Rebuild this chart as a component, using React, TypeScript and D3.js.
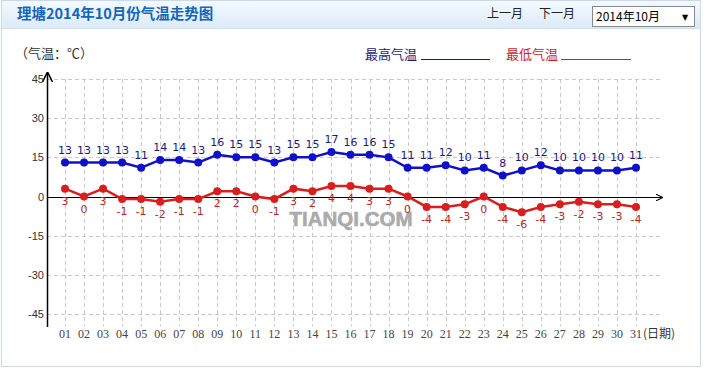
import React from "react";
import * as d3 from "d3";

const days = ["01","02","03","04","05","06","07","08","09","10","11","12","13","14","15","16","17","18","19","20","21","22","23","24","25","26","27","28","29","30","31"];
const highs = [13,13,13,13,11,14,14,13,16,15,15,13,15,15,17,16,16,15,11,11,12,10,11,8,10,12,10,10,10,10,11];
const lows = [3,0,3,-1,-1,-2,-1,-1,2,2,0,-1,3,2,4,4,3,3,0,-4,-4,-3,0,-4,-6,-4,-3,-2,-3,-3,-4];
const yTicks = [45,30,15,0,-15,-30,-45];
const title = "理塘2014年10月份气温走势图";
const unitLabel = "（气温：℃）";
const highName = "最高气温";
const lowName = "最低气温";
const xUnit = "(日期)";

const W = 705, H = 370;
const HIGH = "#1010c8";
const LOW = "#d81e1e";
const HIGH_TXT = "#1a1a7a";
const LOW_TXT = "#b02a2a";
const CJK = "'Noto Sans CJK SC', 'DejaVu Sans', sans-serif";

export default function App() {
  const x = d3.scalePoint<string>().domain(days).range([65, 636]);
  const y = d3.scaleLinear().domain([-45, 45]).range([314, 79]);
  const axisX = 47;
  const gridRight = 660;
  const lineGen = d3.line<number>().x((_, i) => x(days[i])!).y((v) => y(v));

  return (
    <svg width={W} height={H} style={{ position: "absolute", left: 0, top: 0, background: "#fff" }}>
      <defs>
        <linearGradient id="hdr" x1="0" y1="0" x2="0" y2="1">
          <stop offset="0" stopColor="#f4f9fe" />
          <stop offset="1" stopColor="#dcebf8" />
        </linearGradient>
        <marker id="arr" viewBox="0 0 10 10" refX="9" refY="5" markerWidth="7" markerHeight="7" orient="auto">
          <path d="M0,0 L10,5 L0,10" fill="none" stroke="#000" strokeWidth="1.5" />
        </marker>
      </defs>
      {/* frame */}
      <rect x={1.5} y={0.5} width={699} height={366} fill="#fff" stroke="#c8d9ea" />
      <rect x={2} y={1} width={698} height={27} fill="url(#hdr)" />
      <line x1={2} x2={700} y1={28.5} y2={28.5} stroke="#cfe0ef" />
      <text x={17} y={19} fontFamily={CJK} fontWeight="bold" fontSize={14.5} fill="#1565b8">{title}</text>
      <text x={487} y={18} fontFamily={CJK} fontSize={12} fill="#222">上一月</text>
      <text x={539} y={18} fontFamily={CJK} fontSize={12} fill="#222">下一月</text>
      <rect x={592.5} y={6.5} width={102} height={20} fill="#fff" stroke="#888" />
      <text x={596} y={21} fontFamily={CJK} fontSize={12} fill="#000">2014年10月</text>
      <text x={685} y={20} fontFamily="'DejaVu Sans', sans-serif" fontSize={8} fill="#000" textAnchor="middle">▼</text>

      {/* legend */}
      <text x={15} y={58} fontFamily={CJK} fontSize={13} fill="#333">{unitLabel}</text>
      <text x={365} y={59} fontFamily={CJK} fontSize={13} fill="#1a1a80">{highName}</text>
      <line x1={421} x2={490} y1={59.5} y2={59.5} stroke="#1a1a80" />
      <text x={506} y={59} fontFamily={CJK} fontSize={13} fill="#cc2222">{lowName}</text>
      <line x1={561} x2={631} y1={59.5} y2={59.5} stroke="#cc2222" />

      {/* grid */}
      <g stroke="#c8c8c8" strokeDasharray="4,3" strokeWidth={1}>
        {yTicks.map((t) => (
          <line key={"h" + t} x1={axisX} x2={gridRight} y1={Math.round(y(t)) + 0.5} y2={Math.round(y(t)) + 0.5} />
        ))}
        {days.map((d) => (
          <line key={"v" + d} x1={Math.round(x(d)!) + 0.5} x2={Math.round(x(d)!) + 0.5} y1={79} y2={326} />
        ))}
      </g>

      {/* watermark */}
      <text x={351} y={226} textAnchor="middle" fontFamily="'Liberation Sans', Arial, sans-serif" fontWeight="bold" fontSize={21} fill="#ababab" stroke="#ababab" strokeWidth={0.6} textLength={123} lengthAdjust="spacingAndGlyphs">TIANQI.COM</text>

      {/* axes */}
      <line x1={axisX + 0.5} x2={axisX + 0.5} y1={327} y2={73} stroke="#000" strokeWidth={1.5} markerEnd="url(#arr)" />
      <line x1={axisX} x2={662} y1={Math.round(y(0)) + 0.5} y2={Math.round(y(0)) + 0.5} stroke="#000" strokeWidth={1} markerEnd="url(#arr)" />
      {yTicks.map((t) => (
        <text key={"yt" + t} x={44} y={y(t) + 4} textAnchor="end" fontFamily="'Liberation Sans', Arial, sans-serif" fontSize={11} fill="#333">{t}</text>
      ))}
      {days.map((d) => (
        <text key={"xt" + d} x={x(d)!} y={338} textAnchor="middle" fontFamily="'Liberation Serif', serif" fontSize={12} fill="#444">{d}</text>
      ))}
      <text x={643} y={338} fontFamily={CJK} fontSize={12} fill="#333">{xUnit}</text>

      {/* series */}
      <path d={lineGen(highs) || ""} fill="none" stroke={HIGH} strokeWidth={2.5} />
      <path d={lineGen(lows) || ""} fill="none" stroke={LOW} strokeWidth={2.5} />
      {highs.map((v, i) => (
        <circle key={"hc" + i} cx={x(days[i])!} cy={y(v)} r={4} fill={HIGH} />
      ))}
      {lows.map((v, i) => (
        <circle key={"lc" + i} cx={x(days[i])!} cy={y(v)} r={4} fill={LOW} />
      ))}
      {highs.map((v, i) => (
        <text key={"hl" + i} x={x(days[i])!} y={y(v) - 9} textAnchor="middle" fontFamily="'DejaVu Sans', sans-serif" fontSize={11} fill={HIGH_TXT}>{v}</text>
      ))}
      {lows.map((v, i) => (
        <text key={"ll" + i} x={x(days[i])!} y={y(v) + 16} textAnchor="middle" fontFamily="'DejaVu Sans', sans-serif" fontSize={11} fill={LOW_TXT}>{v}</text>
      ))}
    </svg>
  );
}
